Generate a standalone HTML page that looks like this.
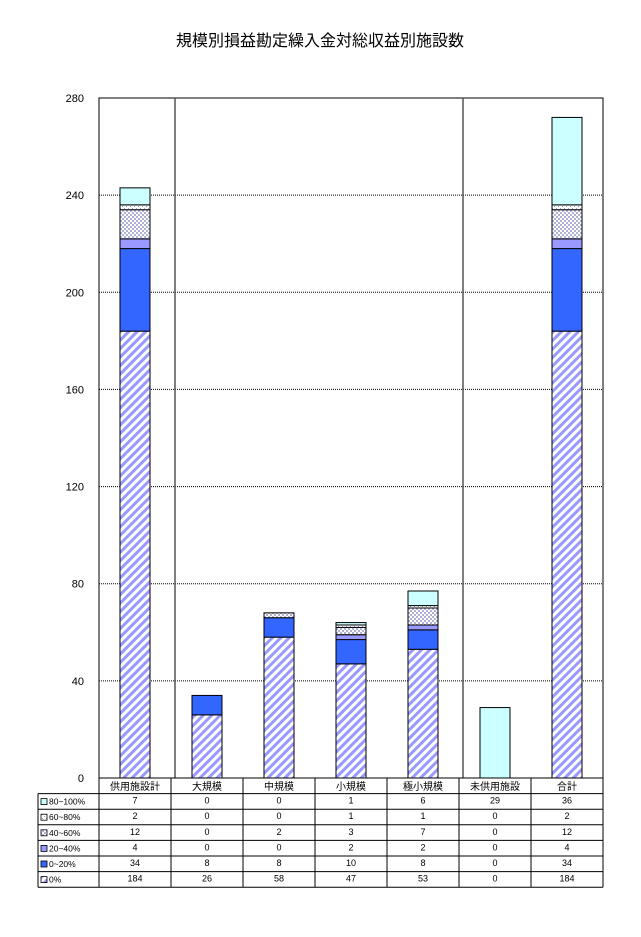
<!DOCTYPE html>
<html><head><meta charset="utf-8"><style>
body{margin:0;background:#fff;width:641px;height:932px;overflow:hidden;font-family:"Liberation Sans","Noto Sans CJK JP",sans-serif}
</style></head><body>
<svg id="c" width="641" height="932" xmlns="http://www.w3.org/2000/svg">
<defs>
<pattern id="p0" width="6" height="6" patternUnits="userSpaceOnUse" patternTransform="rotate(45)"><rect width="6" height="6" fill="#fff"/><rect width="3" height="6" fill="#9999ff"/></pattern>
<pattern id="p3" width="4" height="4" patternUnits="userSpaceOnUse"><rect width="4" height="4" fill="#fff"/><rect width="2" height="2" fill="#b0b0d8"/><rect x="2" y="2" width="2" height="2" fill="#b0b0d8"/></pattern>
<pattern id="p4" width="4" height="4" patternUnits="userSpaceOnUse"><rect width="4" height="4" fill="#fff"/><rect width="1" height="1" fill="#9999cc"/><rect x="2" y="2" width="1" height="1" fill="#9999cc"/></pattern>
</defs>
<text x="320" y="46" text-anchor="middle" font-size="16">規模別損益勘定繰入金対総収益別施設数</text>
<g id="g"></g>
</svg>
<script>
const categories=["供用施設計","大規模","中規模","小規模","極小規模","未供用施設","合計"];
const seriesNames=["0%","0~20%","20~40%","40~60%","60~80%","80~100%"];
const s0=[184,26,58,47,53,0,184];
const s1=[34,8,8,10,8,0,34];
const s2=[4,0,0,2,2,0,4];
const s3=[12,0,2,3,7,0,12];
const s4=[2,0,0,1,1,0,2];
const s5=[7,0,0,1,6,29,36];
const yTicks=[0,40,80,120,160,200,240,280];
const series=[s0,s1,s2,s3,s4,s5];
const fills=["url(#p0)","#3366ff","#9999ff","url(#p3)","url(#p4)","#ccffff"];
const L=99,R=603,T=98,B=778,yMax=280;
const y=v=>B-(v/yMax)*(B-T);
const cw=(R-L)/categories.length;
const x=i=>L+cw*i+cw/2;
const g=document.getElementById('g');
const NS="http://www.w3.org/2000/svg";
function mk(t,a,txt){const e=document.createElementNS(NS,t);for(const k in a)e.setAttribute(k,a[k]);if(txt!=null)e.textContent=txt;g.appendChild(e);return e;}
yTicks.forEach(t=>{
  if(t>0&&t<yMax){const l=mk('line',{x1:L,x2:R,y1:y(t),y2:y(t),stroke:'#000','stroke-dasharray':'1,1','stroke-width':1});
  
  }
  const tx=mk('text',{x:84,y:y(t)+4,'text-anchor':'end','font-size':11},t);
  
  
});
const pa=mk('rect',{x:L,y:T,width:R-L,height:B-T,fill:'none',stroke:'#000','stroke-width':1});


[1,5].forEach(i=>{const l=mk('line',{x1:L+cw*i+4,x2:L+cw*i+4,y1:T,y2:B,stroke:'#555','stroke-width':1.5});

});
categories.forEach((c,i)=>{
  let acc=0;
  series.forEach((s,k)=>{
    const v=s[i];if(v<=0)return;
    const r=mk('rect',{x:x(i)-15,y:y(acc+v),width:30,height:y(acc)-y(acc+v),fill:fills[k],stroke:'#000','stroke-width':1});
    
    
    acc+=v;
  });
});
const rowH=15.6,tb=B;
const tl=38;
for(let r=0;r<=7;r++){const yy=tb+r*rowH;const l=mk('line',{x1:r==0?L:tl,x2:R,y1:yy,y2:yy,stroke:'#000','stroke-width':1});

}
const vl=mk('line',{x1:tl,x2:tl,y1:tb+rowH,y2:tb+7*rowH,stroke:'#000'});


for(let i=0;i<=categories.length;i++){const l=mk('line',{x1:L+cw*i,x2:L+cw*i,y1:tb,y2:tb+7*rowH,stroke:'#000'});

}
categories.forEach((c,i)=>{const t=mk('text',{x:x(i),y:tb+12,'text-anchor':'middle','font-size':10},c);

});
const order=[5,4,3,2,1,0];
const labels=["80~100%","60~80%","40~60%","20~40%","0~20%","0%"];
order.forEach((k,r)=>{
  const yy=tb+(r+1)*rowH;
  const sw=mk('rect',{x:tl+3,y:yy+5,width:6,height:6,fill:fills[k],stroke:'#000','stroke-width':0.8});
  
  
  const lt=mk('text',{x:tl+11,y:yy+11,'font-size':8.5},labels[r]);
  
  
  series[k].forEach((v,i)=>{const t=mk('text',{x:x(i),y:yy+10,'text-anchor':'middle','font-size':9},v);
  
  });
});
</script>
</body></html>
